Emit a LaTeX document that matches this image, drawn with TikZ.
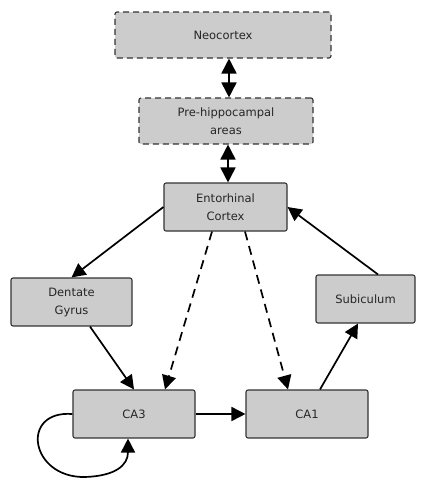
\documentclass[tikz,border=0pt]{standalone}
\usepackage{fontspec}
\setmainfont{DejaVu Sans}
\usetikzlibrary{arrows.meta,calc}
\tikzset{
  box/.style={draw=black!80, fill=gray!40, rounded corners=2pt, line width=1.1pt,
    inner sep=0pt, align=center, text=black!85,
    font=\fontsize{11.5}{18}\selectfont},
  dbox/.style={box, dash pattern=on 6pt off 4pt},
  conn/.style={line width=1.7pt, -{Triangle[length=14pt,width=14pt]}},
  dconn/.style={conn, dash pattern=on 9pt off 6pt},
  biconn/.style={line width=1.7pt, {Triangle[length=15pt,width=15pt]}-{Triangle[length=15pt,width=15pt]}}
}
\begin{document}
\begin{tikzpicture}[x=1pt,y=-1pt]
\useasboundingbox (0,0) rectangle (428,479);
\node[dbox, minimum width=216pt, minimum height=46pt] (neo) at (223,35) {Neocortex};
\node[dbox, minimum width=174pt, minimum height=46pt] (pre) at (226,121) {Pre-hippocampal\\areas};
\node[box, minimum width=123pt, minimum height=48pt] (ento) at (225.5,207) {Entorhinal\\Cortex};
\node[box, minimum width=121pt, minimum height=48pt] (dg) at (71.5,302) {Dentate\\Gyrus};
\node[box, minimum width=99pt, minimum height=48pt] (sub) at (365.5,299) {Subiculum};
\node[box, minimum width=122pt, minimum height=48pt] (ca3) at (134,414) {CA3};
\node[box, minimum width=122pt, minimum height=48pt] (ca1) at (307,414) {CA1};

\draw[biconn] ([xshift=6pt]neo.south) -- ([xshift=3pt]pre.north);
\draw[biconn] ([xshift=2pt]pre.south) -- ([xshift=2.5pt]ento.north);
\draw[conn] (ento.west) -- (dg.north);
\draw[conn] ([xshift=18.5pt]dg.south) -- (ca3.north);
\draw[dconn] ([xshift=-13.5pt]ento.south) -- ([xshift=31pt]ca3.north);
\draw[dconn] ([xshift=19.5pt]ento.south) -- ([xshift=-19pt]ca1.north);
\draw[conn] (ca3.east) -- (ca1.west);
\draw[conn] ([xshift=13pt]ca1.north) -- ([xshift=-7.5pt]sub.south);
\draw[conn] ([xshift=12.5pt]sub.north) -- (ento.east);
\coordinate (loopb) at (85,477);
\draw[conn] (ca3.west) .. controls +(-53,-4) and +(-55,1) .. (loopb)
  .. controls +(30,-1) and +(0,27) .. ([xshift=-6pt]ca3.south);
\end{tikzpicture}
\end{document}
